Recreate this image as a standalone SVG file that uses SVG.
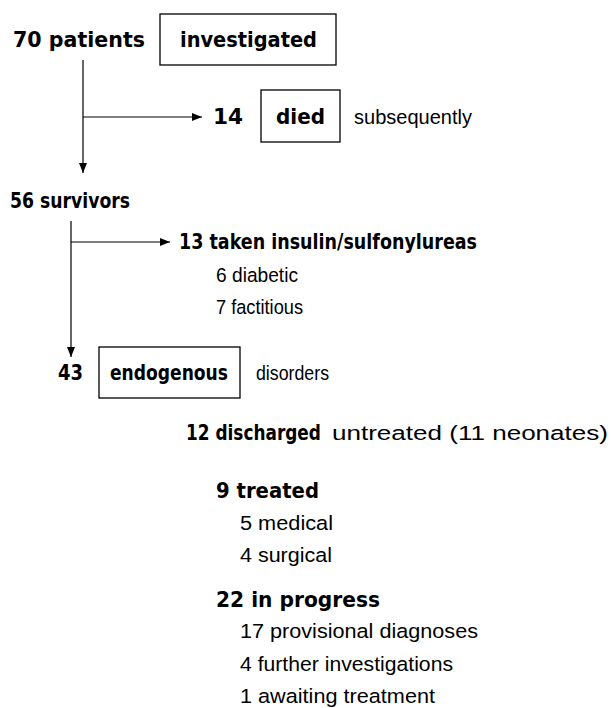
<svg xmlns="http://www.w3.org/2000/svg" width="611" height="708" viewBox="0 0 611 708">
<style>
.b{font-family:"DejaVu Sans",sans-serif;font-weight:bold;font-size:21px;fill:#000}
.r{font-family:"Liberation Sans",sans-serif;font-size:20.5px;fill:#000}
.box{fill:none;stroke:#000;stroke-width:1.3}
.ln{fill:none;stroke:#000;stroke-width:1.2}
</style>
<defs>
<marker id="ah" viewBox="0 0 10 8" refX="10" refY="4" markerWidth="10" markerHeight="8" markerUnits="userSpaceOnUse" orient="auto">
<path d="M0,0 L10,4 L0,8 Z" fill="#000"/>
</marker>
</defs>
<rect width="611" height="708" fill="#fff"/>
<g id="connectors">
<path class="ln" d="M83,60 V173" marker-end="url(#ah)"/>
<path class="ln" d="M83,117 H202" marker-end="url(#ah)"/>
<path class="ln" d="M71,221 V357" marker-end="url(#ah)"/>
<path class="ln" d="M71,242 H170" marker-end="url(#ah)"/>
</g>
<g id="n70">
<text class="b" x="13" y="47" textLength="132" lengthAdjust="spacingAndGlyphs">70 patients</text>
<rect class="box" x="160" y="14" width="176" height="51"/>
<text class="b" x="180" y="47" textLength="137" lengthAdjust="spacingAndGlyphs">investigated</text>
</g>
<g id="n14">
<text class="b" x="213" y="124" textLength="30" lengthAdjust="spacingAndGlyphs">14</text>
<rect class="box" x="261" y="90" width="79" height="52"/>
<text class="b" x="276" y="124" textLength="49" lengthAdjust="spacingAndGlyphs">died</text>
<text class="r" x="354" y="124" textLength="118" lengthAdjust="spacingAndGlyphs">subsequently</text>
</g>
<g id="n56">
<text class="b" x="10" y="208" textLength="120" lengthAdjust="spacingAndGlyphs">56 survivors</text>
</g>
<g id="n13">
<text class="b" x="179" y="249" textLength="298" lengthAdjust="spacingAndGlyphs">13 taken insulin/sulfonylureas</text>
<text class="r" x="216" y="282" textLength="82" lengthAdjust="spacingAndGlyphs">6 diabetic</text>
<text class="r" x="216" y="314" textLength="87" lengthAdjust="spacingAndGlyphs">7 factitious</text>
</g>
<g id="n43">
<text class="b" x="58" y="380" textLength="25" lengthAdjust="spacingAndGlyphs">43</text>
<rect class="box" x="99" y="347" width="141" height="51"/>
<text class="b" x="110" y="380" textLength="118" lengthAdjust="spacingAndGlyphs">endogenous</text>
<text class="r" x="256" y="380" textLength="73" lengthAdjust="spacingAndGlyphs">disorders</text>
</g>
<g id="n12">
<text class="b" transform="translate(186,440) scale(0.806,1)" x="0" y="0">12 discharged</text>
<text class="r" x="332" y="440" textLength="276" lengthAdjust="spacingAndGlyphs">untreated (11 neonates)</text>
</g>
<g id="n9">
<text class="b" x="216" y="498" textLength="103" lengthAdjust="spacingAndGlyphs">9 treated</text>
<text class="r" x="240" y="530" textLength="93" lengthAdjust="spacingAndGlyphs">5 medical</text>
<text class="r" x="240" y="562" textLength="92" lengthAdjust="spacingAndGlyphs">4 surgical</text>
</g>
<g id="n22">
<text class="b" x="216" y="607" textLength="164" lengthAdjust="spacingAndGlyphs">22 in progress</text>
<text class="r" x="240" y="638" textLength="238" lengthAdjust="spacingAndGlyphs">17 provisional diagnoses</text>
<text class="r" x="240" y="671" textLength="213" lengthAdjust="spacingAndGlyphs">4 further investigations</text>
<text class="r" x="240" y="703" textLength="195" lengthAdjust="spacingAndGlyphs">1 awaiting treatment</text>
</g>
</svg>
